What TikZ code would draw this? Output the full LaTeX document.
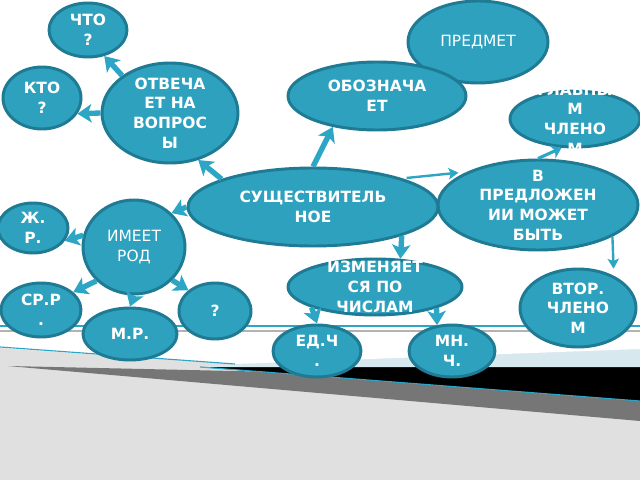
\documentclass[tikz,border=0pt]{standalone}
\usepackage{fontspec}
\setmainfont{DejaVu Sans}
\usetikzlibrary{shapes.geometric,arrows.meta}

\definecolor{blobfill}{RGB}{46,161,190}
\definecolor{blobline}{RGB}{31,122,147}
\definecolor{arrowc}{RGB}{45,165,197}
\definecolor{paper}{RGB}{224,224,224}
\definecolor{stripe}{RGB}{118,118,118}
\definecolor{lightblue}{RGB}{216,232,239}
\definecolor{rulegray}{RGB}{178,178,178}

\begin{document}
\begin{tikzpicture}[x=0.025cm, y=-0.025cm,
    blob/.style={ellipse, draw=blobline, fill=blobfill, line width=2.1pt, inner sep=0pt},
    blobtext/.style={text=white, align=center, inner sep=0pt, font=\fontsize{11}{14}\selectfont\bfseries},
    fat/.style={draw=arrowc, line width=3.8pt, -{Stealth[length=10pt, width=13pt, inset=2.5pt]}},
    mid/.style={draw=arrowc, line width=2.2pt, -{Stealth[length=7pt, width=10pt, inset=2pt]}},
    slim/.style={draw=arrowc, line width=1.7pt, -{Stealth[length=7pt, width=8pt, inset=1.5pt]}}]
    \def\px{0.025cm}
    % Background: grey desk, shadow and the white sheet
    \fill[paper] (0,0) rectangle (640,480);
    \useasboundingbox (0,0) rectangle (640,480);
    \fill[stripe] (8,366) -- (640,380) -- (640,421) -- cycle;
    \fill[black] (200,367) -- (640,366) -- (640,401) -- cycle;
    \draw[arrowc, line width=0.8pt] (200,367) -- (640,401);
    \fill[lightblue] (230,364) -- (640,349) -- (640,367) -- (200,367) -- cycle;
    \fill[white] (0,0) -- (640,0) -- (640,349) -- (235,364) -- (0,348) -- cycle;
    \draw[arrowc, line width=0.8pt] (0,347) -- (235,364);
    % Two rules across the sheet
    \draw[arrowc, line width=1pt] (0,326) -- (640,326);
    \draw[rulegray, line width=1pt] (0,331) -- (640,331);
    % Ellipses: name/x/y/rx/ry/text
    \foreach \nm/\x/\y/\rx/\ry/\t in {
        chto/88/30/39/27/{ЧТО\\?},
        kto/42/98/39/31/{КТО\\?},
        otv/170/113/68/50/{ОТВЕЧА\\ЕТ НА\\ВОПРОС\\Ы},
        predmet/478/42/70/41/{\mdseries ПРЕДМЕТ},
        oboz/377/96/89/34/{ОБОЗНАЧА\\ЕТ},
        glav/575/119/65/28/{ГЛАВНЫ\\М\\ЧЛЕНО\\М},
        predl/538/205/100/45/{В\\ПРЕДЛОЖЕН\\ИИ МОЖЕТ\\БЫТЬ},
        sush/313/207/125/39/{СУЩЕСТВИТЕЛЬ\\НОЕ},
        imeet/134/247/51/47/{\mdseries ИМЕЕТ\\\mdseries РОД},
        zhr/33/228/35/25/{Ж.\\Р.},
        srr/41/310/40/27/{СР.Р\\.},
        mr/130/334/47/26/{М.Р.},
        vopr/215/311/36/28/{?},
        izm/375/287/87/28/{ИЗМЕНЯЕТ\\СЯ ПО\\ЧИСЛАМ},
        ed/317/351/44/26/{ЕД.Ч\\.},
        mn/452/351/43/26/{МН.\\Ч.},
        vtor/578/308/58/39/{ВТОР.\\ЧЛЕНО\\М}} {
        \node[blob, minimum width={2*\rx*\px}, minimum height={2*\ry*\px}] (\nm) at (\x,\y) {};
        \node[blobtext] (\nm-t) at (\nm) {\t};
    }
    % Arrows from the centre outwards
    \draw[fat] (otv.142) -- (chto.-58);
    \draw[fat] (otv.west) -- (kto.-24);
    \draw[fat] (sush.163) -- (otv.-59);
    \draw[fat] (sush.north) -- (oboz.-145);
    \draw[slim, shorten <=3pt, shorten >=6pt] (sush.north east) -- (predl.155);
    \draw[mid] (predl.north) -- (glav.-115);
    \draw[slim, shorten >=5pt] (predl.-23) -- (vtor.42);
    \draw[fat] (sush.-18) -- (izm.48);
    \draw[fat] (izm.-162) -- (ed.north);
    \draw[fat] (izm.-19) -- (mn.120);
    \draw[fat] (sush.west) -- (imeet.42);
    \foreach \a/\b in {167/zhr.-22, -138/srr.29, south/mr.north, -41/vopr.142} {
        \draw[fat] (imeet.\a) -- (\b);
    }
\end{tikzpicture}
\end{document}
